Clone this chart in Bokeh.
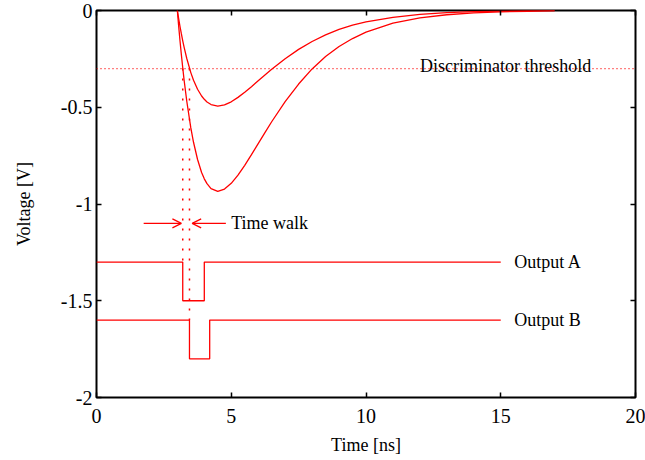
from bokeh.plotting import figure
from bokeh.models import Range1d, LinearAxis, FixedTicker, Arrow, OpenHead, Label, Span
from bokeh.embed import file_html
from bokeh.resources import INLINE

# ---- data ----
time_ns = [3.00, 3.05, 3.10, 3.15, 3.20, 3.25, 3.35, 3.50, 3.60, 3.75, 3.90, 4.00, 4.10,
           4.25, 4.50, 4.75, 5.00, 5.25, 5.50, 5.75, 6.00, 6.25, 6.50, 7.00, 7.50, 8.00,
           8.50, 9.00, 9.50, 10.0, 11.0, 12.0, 13.0, 14.0, 15.0, 16.0, 17.0]
pulse_large = [0.0, -0.082, -0.159, -0.230, -0.296, -0.359, -0.469, -0.607, -0.681, -0.770,
               -0.837, -0.870, -0.895, -0.921, -0.935, -0.923, -0.893, -0.851, -0.800, -0.745,
               -0.688, -0.631, -0.575, -0.471, -0.380, -0.302, -0.238, -0.186, -0.145, -0.112,
               -0.065, -0.038, -0.022, -0.012, -0.007, -0.004, -0.001]
pulse_small = [0.0, -0.043, -0.084, -0.121, -0.157, -0.189, -0.248, -0.321, -0.360, -0.407,
               -0.442, -0.459, -0.473, -0.486, -0.494, -0.488, -0.472, -0.449, -0.423, -0.394,
               -0.363, -0.333, -0.304, -0.249, -0.201, -0.160, -0.126, -0.098, -0.076, -0.059,
               -0.035, -0.020, -0.011, -0.006, -0.003, -0.001, 0.0]

threshold = -0.3
crossing_times = [3.2, 3.45]          # large pulse, small pulse
output_levels = [-1.3, -1.6]          # idle levels of Output A / B

outA_t = [0, 3.2, 3.2, 4.0, 4.0, 15]
outA_v = [-1.3, -1.3, -1.5, -1.5, -1.3, -1.3]
outB_t = [0, 3.45, 3.45, 4.2, 4.2, 15]
outB_v = [-1.6, -1.6, -1.8, -1.8, -1.6, -1.6]

walk_y = -1.1
walk_left = [1.75, 3.15]
walk_right = [4.8, 3.55]

x_ticks = [0, 5, 10, 15, 20]
x_labels = ["0", "5", "10", "15", "20"]
y_ticks = [-2, -1.5, -1, -0.5, 0]
y_labels = ["-2", "-1.5", "-1", "-0.5", "0"]

FONT = "Liberation Serif"
RED = "#ff0000"

p = figure(width=645, height=460, x_range=Range1d(0, 20), y_range=Range1d(-2, 0),
           output_backend="svg", toolbar_location=None,
           min_border_left=96, min_border_right=10, min_border_top=10, min_border_bottom=63)
p.grid.visible = False
p.outline_line_color = "black"
p.outline_line_width = 2
p.background_fill_color = "white"
p.border_fill_color = "white"

def style_axis(ax, ticks, labels, show_labels=True):
    ax.ticker = FixedTicker(ticks=ticks)
    ax.major_label_overrides = {t: (l if show_labels else "") for t, l in zip(ticks, labels)}
    ax.axis_line_color = None
    ax.major_tick_in = 5
    ax.major_tick_out = 0
    ax.major_tick_line_width = 1.5
    ax.major_tick_line_color = "black"
    ax.minor_tick_line_color = None
    ax.major_label_text_font = FONT
    ax.major_label_text_font_size = "20px" if show_labels else "0px"
    ax.major_label_text_color = "black"
    ax.axis_label_text_font = FONT
    ax.axis_label_text_font_size = "18px"
    ax.axis_label_text_font_style = "normal"
    ax.axis_label_text_color = "black"

style_axis(p.xaxis[0], x_ticks, x_labels)
style_axis(p.yaxis[0], y_ticks, y_labels)
p.xaxis[0].axis_label = "Time [ns]"
p.yaxis[0].axis_label = "Voltage [V]"
p.xaxis[0].major_label_standoff = 11
p.xaxis[0].axis_label_standoff = 9
p.yaxis[0].major_label_standoff = 4
p.yaxis[0].axis_label_standoff = 24

top_ax = LinearAxis()
right_ax = LinearAxis()
style_axis(top_ax, x_ticks, x_labels, show_labels=False)
style_axis(right_ax, y_ticks, y_labels, show_labels=False)
top_ax.major_label_standoff = 0
right_ax.major_label_standoff = 0
p.add_layout(top_ax, "above")
p.add_layout(right_ax, "right")

# discriminator threshold
p.add_layout(Span(location=threshold, dimension="width", line_color=RED,
                  line_width=1.2, line_dash="1 3"))

# vertical dotted lines from threshold crossings down to outputs
p.segment(x0=crossing_times, y0=[threshold] * 2, x1=crossing_times, y1=output_levels,
          line_color=RED, line_width=1.5, line_dash="2 8")

# pulses
p.line(time_ns, pulse_large, line_color=RED, line_width=1.3)
p.line(time_ns, pulse_small, line_color=RED, line_width=1.3)

# outputs
p.line(outA_t, outA_v, line_color=RED, line_width=1.3)
p.line(outB_t, outB_v, line_color=RED, line_width=1.3)

# time-walk arrows
for xs in (walk_left, walk_right):
    p.add_layout(Arrow(x_start=xs[0], y_start=walk_y, x_end=xs[1], y_end=walk_y,
                       line_color=RED, line_width=1.2,
                       end=OpenHead(size=9, line_color=RED, line_width=1.2)))

def label(x, y, text, baseline="middle", yoff=0):
    p.add_layout(Label(x=x, y=y, text=text, text_font=FONT, text_font_size="18px",
                       text_color="black", text_baseline=baseline, y_offset=yoff))

label(12.0, threshold, "Discriminator threshold", baseline="alphabetic", yoff=3)
label(5.0, walk_y, "Time walk")
label(15.5, output_levels[0], "Output A")
label(15.5, output_levels[1], "Output B")

open("out.html", "w").write(file_html(p, INLINE))
